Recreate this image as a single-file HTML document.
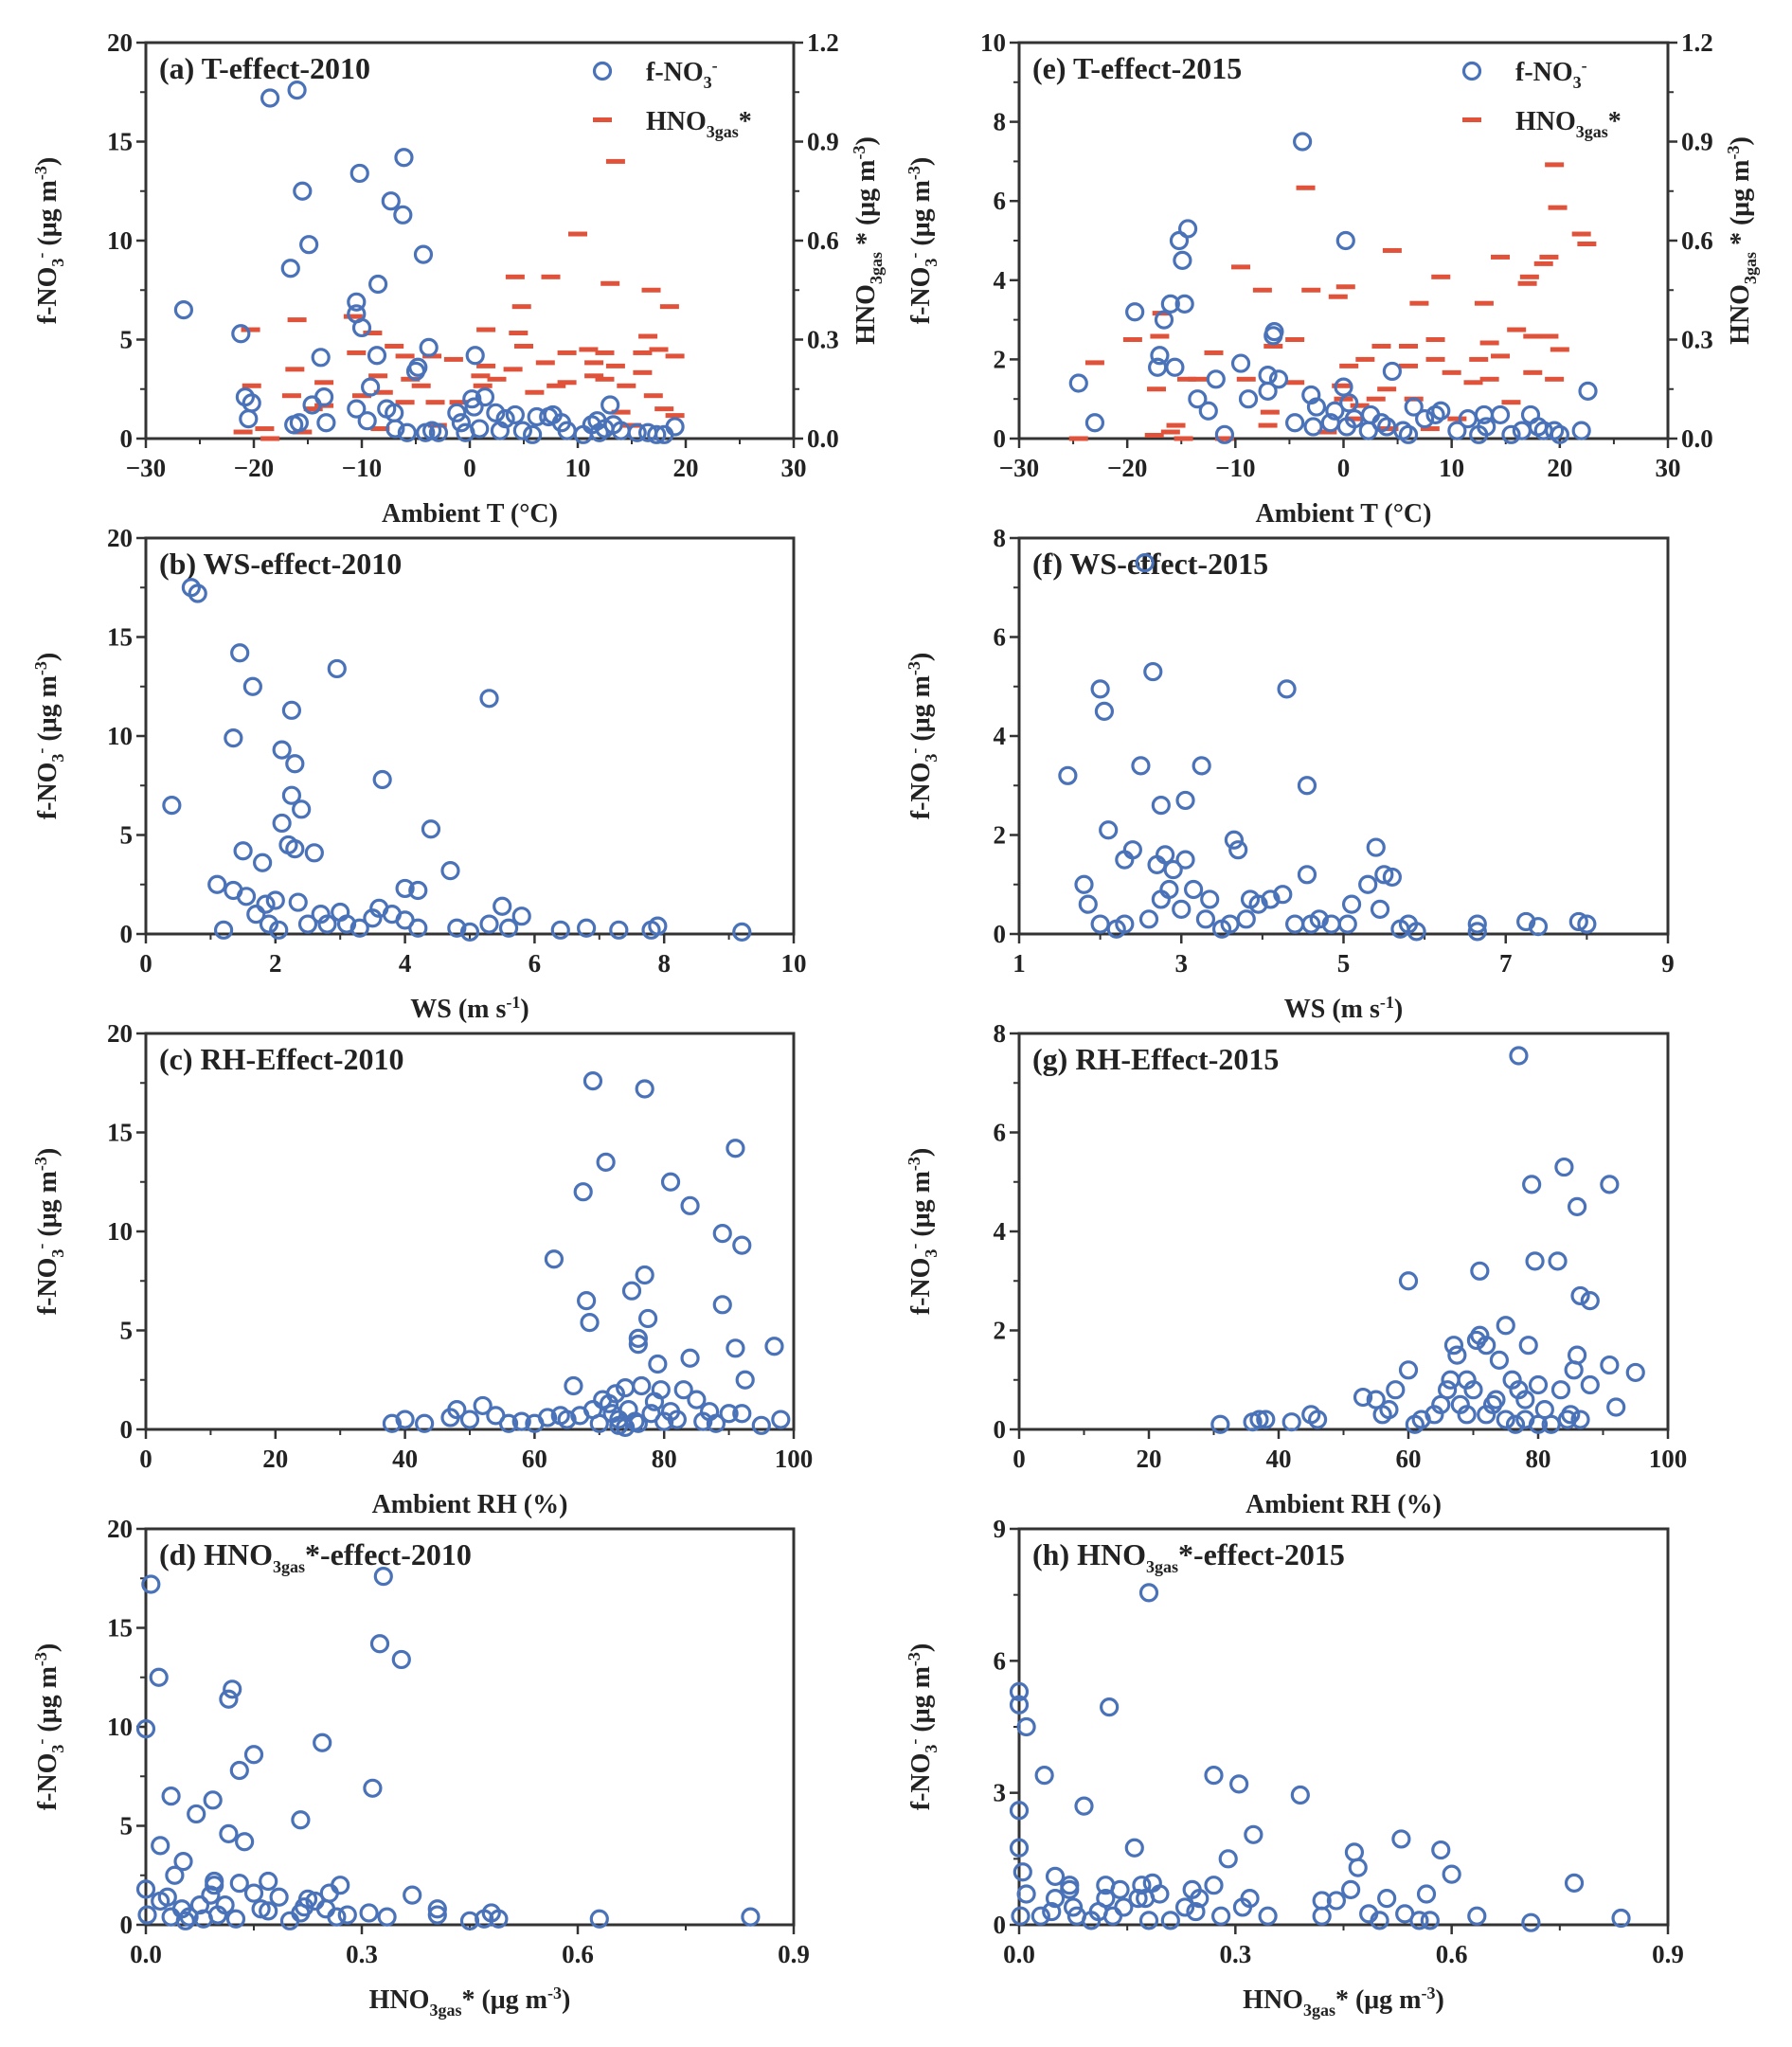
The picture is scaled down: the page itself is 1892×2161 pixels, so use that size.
<!DOCTYPE html>
<html><head><meta charset="utf-8"><style>
html,body{margin:0;padding:0;background:#fff;}
svg{display:block;font-family:"Liberation Serif",serif;font-weight:bold;}
</style></head><body>
<svg id="fig" width="1892" height="2161" viewBox="0 0 1892 2161" xmlns="http://www.w3.org/2000/svg"></svg>
<script>
// ---- Data ----
const aNO3T=[-26.5,-21.2,-20.8,-20.5,-20.2,-18.5,-16,-15.5,-16.6,-14.9,-16.3,-15.8,-14.6,-13.8,-13.5,-13.3,-10.2,-10.5,-10.5,-10.0,-10.5,-9.5,-9.2,-8.5,-8.6,-7.7,-7.3,-6.9,-7.0,-6.2,-6.1,-5.8,-5.0,-4.8,-4.3,-3.8,-3.5,-4.1,-2.9,-1.2,-0.8,-0.4,0.2,0.4,0.5,1.4,0.9,2.4,2.8,3.3,4.2,4.9,5.8,6.2,7.3,7.7,8.5,9.0,10.5,11.3,11.8,12.0,12.5,13.0,13.3,14,15.5,16.5,17.3,19,18];
const aNO3V=[6.5,5.3,2.1,1.0,1.8,17.2,17.6,12.5,8.6,9.8,0.7,0.8,1.7,4.1,2.1,0.8,13.4,6.9,6.3,5.6,1.5,0.9,2.6,7.8,4.2,1.5,12.0,0.5,1.3,11.3,14.2,0.3,3.4,3.6,9.3,4.6,0.4,0.3,0.3,1.3,0.8,0.3,2.0,1.6,4.2,2.1,0.5,1.3,0.4,1.0,1.2,0.4,0.2,1.1,1.1,1.2,0.8,0.4,0.2,0.7,0.9,0.3,0.5,1.7,0.7,0.4,0.3,0.3,0.2,0.6,0.2];
const aHNO3T=[-21,-20.3,-20.2,-19,-18.5,-16.5,-16.2,-16,-15.5,-14.5,-13.5,-13.5,-10.8,-10.5,-10,-9,-8.5,-8.3,-8,-7,-6,-6,-5.5,-4.5,-3.5,-3.2,-3,-1.5,-1,1,1.2,1.5,1.5,2.5,4,4.2,4.5,4.8,5,6,7,7.5,8,9,9,10,11,11.5,11.5,12.5,12.5,13,13.5,13.5,14,14.5,15,16,16,16.5,16.8,17,17.5,18,18.5,19,19];
const aHNO3V=[0.02,0.33,0.16,0.03,0,0.13,0.21,0.36,0.02,0.09,0.17,0.1,0.37,0.26,0.13,0.32,0.19,0.03,0.14,0.28,0.25,0.11,0.18,0.16,0.25,0.11,0.04,0.24,0.11,0.19,0.16,0.22,0.33,0.18,0.21,0.49,0.32,0.4,0.28,0.14,0.23,0.49,0.16,0.26,0.17,0.62,0.27,0.19,0.23,0.26,0.18,0.47,0.84,0.22,0.08,0.16,0.04,0.26,0.2,0.31,0.45,0.13,0.27,0.09,0.4,0.25,0.07];

const eNO3T=[-24.5,-23,-19.3,-17.2,-17,-16.6,-16,-15.6,-15.2,-14.9,-14.7,-14.4,-13.5,-12.5,-11.8,-11,-9.5,-8.8,-7,-7,-6.5,-6.4,-6,-3.8,-4.5,-3,-2.8,-2.5,-1.2,-0.8,0,0.2,0.5,0.3,1,2.5,2.3,3.5,4,4.5,5.5,6.5,6,7.5,8.5,9,10.5,11.5,12.5,13,13.2,14.5,15.5,16.5,17.3,18,18.5,19.5,20,22,22.6];
const eNO3V=[1.4,0.4,3.2,1.8,2.1,3.0,3.4,1.8,5.0,4.5,3.4,5.3,1.0,0.7,1.5,0.1,1.9,1.0,1.6,1.2,2.6,2.7,1.5,7.5,0.4,1.1,0.3,0.8,0.4,0.7,1.3,5.0,0.9,0.3,0.5,0.6,0.2,0.4,0.3,1.7,0.2,0.8,0.1,0.5,0.6,0.7,0.2,0.5,0.1,0.6,0.3,0.6,0.1,0.2,0.6,0.3,0.2,0.2,0.1,0.2,1.2];
const eHNO3T=[-24.5,-23,-19.5,-17.5,-17.3,-17,-16.8,-16,-15.5,-14.8,-14.5,-13.5,-12,-11,-9.5,-9,-7.5,-7,-6.8,-6.5,-4.5,-4.5,-3.5,-3,-1.5,-0.5,-0.2,0,0.2,0.5,1,1.5,2,3,3.5,4,4.5,4.2,6,6,6.5,7,8,8.5,8.5,9,10,10.5,12,12.5,13,13.5,13.5,14.5,14.5,15.5,16,17,17.2,17.5,17.5,18.5,19,19,19.5,19.5,19.8,20,22,22.5];
const eHNO3V=[0,0.23,0.3,0.01,0.15,0.31,0.38,0.02,0.04,0,0.18,0.18,0.26,0,0.52,0.18,0.45,0.04,0.08,0.28,0.3,0.17,0.76,0.45,0.02,0.43,0.16,0.12,0.46,0.22,0.06,0.1,0.24,0.12,0.28,0.15,0.57,0.03,0.28,0.22,0.12,0.41,0.03,0.3,0.24,0.49,0.2,0.06,0.17,0.24,0.41,0.29,0.18,0.55,0.25,0.11,0.33,0.47,0.49,0.31,0.2,0.53,0.55,0.31,0.18,0.83,0.7,0.27,0.62,0.59];

const bWS=[0.4,0.7,0.8,1.1,1.35,1.35,1.45,1.55,1.5,1.65,1.7,1.8,1.85,1.9,2.0,2.1,2.1,2.2,2.25,2.25,2.3,2.3,2.35,2.4,2.5,2.6,2.7,2.8,2.95,3.0,3.1,3.3,3.5,3.6,3.65,3.8,4.0,4.0,4.2,4.2,4.4,4.7,4.8,5.0,5.3,5.3,5.5,5.6,5.8,6.4,6.8,7.3,7.8,7.9,9.2,2.05,1.2];
const bNO3=[6.5,17.5,17.2,2.5,9.9,2.2,14.2,1.9,4.2,12.5,1.0,3.6,1.5,0.5,1.7,9.3,5.6,4.5,11.3,7.0,4.3,8.6,1.6,6.3,0.5,4.1,1.0,0.5,13.4,1.1,0.5,0.3,0.8,1.3,7.8,1.0,0.7,2.3,0.3,2.2,5.3,3.2,0.3,0.1,11.9,0.5,1.4,0.3,0.9,0.2,0.3,0.2,0.2,0.4,0.1,0.2,0.2];

const fWS=[1.6,1.8,1.85,2.0,2.0,2.05,2.1,2.2,2.3,2.3,2.4,2.5,2.55,2.6,2.65,2.7,2.75,2.75,2.8,2.85,2.9,3.0,3.05,3.05,3.15,3.25,3.3,3.35,3.5,3.6,3.65,3.7,3.8,3.85,3.95,4.1,4.25,4.3,4.4,4.55,4.55,4.6,4.7,4.85,5.05,5.1,5.3,5.4,5.5,5.6,5.45,5.7,5.8,5.9,6.65,6.65,7.25,7.4,7.9,8.0];
const fNO3=[3.2,1.0,0.6,0.2,4.95,4.5,2.1,0.1,1.5,0.2,1.7,3.4,7.5,0.3,5.3,1.4,0.7,2.6,1.6,0.9,1.3,0.5,2.7,1.5,0.9,3.4,0.3,0.7,0.1,0.2,1.9,1.7,0.3,0.7,0.6,0.7,0.8,4.95,0.2,3.0,1.2,0.2,0.3,0.2,0.2,0.6,1.0,1.75,1.2,1.15,0.5,0.1,0.2,0.05,0.2,0.05,0.25,0.15,0.25,0.2];

const cRH=[38,40,43,47,48,50,52,54,56,58,60,62,63,64,65,66,67,67.5,68,68.5,69,69,70,70.5,71,71.5,72,72.5,73,74,74.5,75,75.5,76,76,76.5,77,77,77.5,78,78.5,79,79.5,80,81,81,82,83,84,84,85,86,88,89,89,90,91,91,92,92,92.5,95,97,98,74,76,87,73];
const cNO3=[0.3,0.5,0.3,0.6,1.0,0.5,1.2,0.7,0.3,0.4,0.3,0.6,8.6,0.7,0.5,2.2,0.7,12.0,6.5,5.4,17.6,1.0,0.3,1.5,13.5,1.3,0.8,1.8,0.5,2.1,1.0,7.0,0.4,4.3,4.6,2.2,17.2,7.8,5.6,0.8,1.4,3.3,2.0,0.4,0.9,12.5,0.5,2.0,11.3,3.6,1.5,0.4,0.3,6.3,9.9,0.8,14.2,4.1,0.8,9.3,2.5,0.2,4.2,0.5,0.1,0.3,0.9,0.2];

const gRH=[31,36,37,38,42,45,46,53,55,56,57,58,60,60,61,62,64,65,66,66.5,67,67.5,68,69,69,70,70.5,71,71,72,72,73,73.5,74,75,75,76,77,77,78,78,78.5,79,79.5,80,81,82,83,83.5,84,84.5,85,85.5,86,86,86.5,86.5,88,88,91,91,92,95,80,76.5];
const gNO3=[0.1,0.15,0.2,0.2,0.15,0.3,0.2,0.65,0.6,0.3,0.4,0.8,3.0,1.2,0.1,0.2,0.3,0.5,0.8,1.0,1.7,1.5,0.5,0.3,1.0,0.8,1.8,1.9,3.2,0.3,1.7,0.5,0.6,1.4,2.1,0.2,1.0,7.55,0.8,0.2,0.6,1.7,4.95,3.4,0.9,0.4,0.1,3.4,0.8,5.3,0.2,0.3,1.2,1.5,4.5,0.2,2.7,2.6,0.9,4.95,1.3,0.45,1.15,0.1,0.1];

const dHNO3=[0.0,0.007,0.018,0.0,0.002,0.02,0.02,0.03,0.035,0.035,0.04,0.05,0.052,0.055,0.06,0.07,0.075,0.08,0.09,0.093,0.095,0.095,0.1,0.11,0.115,0.115,0.12,0.125,0.13,0.13,0.137,0.15,0.15,0.16,0.17,0.17,0.185,0.2,0.215,0.215,0.22,0.225,0.235,0.245,0.25,0.255,0.265,0.27,0.28,0.31,0.315,0.325,0.33,0.335,0.355,0.37,0.405,0.405,0.45,0.47,0.48,0.49,0.63,0.84];
const dNO3=[9.9,17.2,12.5,1.8,0.5,4.0,1.2,1.4,6.5,0.4,2.5,0.8,3.2,0.2,0.4,5.6,1.0,0.3,1.5,6.3,2.0,2.2,0.5,1.0,4.6,11.4,11.9,0.3,7.8,2.1,4.2,1.6,8.6,0.8,2.2,0.7,1.4,0.2,0.6,5.3,0.9,1.3,1.2,9.2,0.8,1.6,0.4,2.0,0.5,0.6,6.9,14.2,17.6,0.4,13.4,1.5,0.8,0.5,0.2,0.3,0.6,0.3,0.3,0.4];

const hHNO3=[0,0,0.01,0,0,0.005,0.01,0.002,0.03,0.035,0.045,0.05,0.05,0.07,0.07,0.075,0.08,0.09,0.1,0.11,0.12,0.12,0.125,0.13,0.14,0.145,0.16,0.165,0.17,0.175,0.18,0.18,0.185,0.195,0.21,0.23,0.24,0.245,0.25,0.27,0.27,0.28,0.29,0.305,0.31,0.32,0.325,0.345,0.39,0.42,0.42,0.44,0.46,0.465,0.47,0.485,0.5,0.51,0.53,0.535,0.555,0.565,0.57,0.585,0.6,0.635,0.71,0.77,0.835];
const hNO3=[5.3,5.0,4.5,2.6,1.75,1.2,0.7,0.2,0.2,3.4,0.3,1.1,0.6,0.9,0.8,0.4,0.2,2.7,0.1,0.3,0.9,0.6,4.95,0.2,0.8,0.4,1.75,0.6,0.9,0.6,0.1,7.55,0.95,0.7,0.1,0.4,0.8,0.3,0.6,3.4,0.9,0.2,1.5,3.2,0.4,0.6,2.05,0.2,2.95,0.2,0.55,0.55,0.8,1.65,1.3,0.25,0.1,0.6,1.95,0.25,0.1,0.7,0.1,1.7,1.15,0.2,0.05,0.95,0.15];

const tTicks=[-30,-20,-10,0,10,20,30];
const wsTicks2010=[0,2,4,6,8,10];
const wsTicks2015=[1,3,5,7,9];
const rhTicks=[0,20,40,60,80,100];
const hTicks=[0.0,0.3,0.6,0.9];
const y20=[0,5,10,15,20];
const y10=[0,2,4,6,8,10];
const y8=[0,2,4,6,8];
const y9=[0,3,6,9];
const rTicks=[0.0,0.3,0.6,0.9,1.2];

// ---- Drawing ----
const NS="http://www.w3.org/2000/svg";
const svg=document.getElementById('fig');
const BLUE="#4a72b8", RED="#e0523a";
function mk(tag,attrs,parent){const e=document.createElementNS(NS,tag);for(const k in attrs)e.setAttribute(k,attrs[k]);(parent||svg).appendChild(e);return e;}
function fmt(v,dec){return v<0?'\u2212'+Math.abs(v).toFixed(dec):v.toFixed(dec);}

function panel(o){
  const g=mk('g',{});
  
  
  const L=o.x0,R=o.x1,T=o.y0,B=o.y0+418;
  const sx=v=>L+(v-o.xmin)/(o.xmax-o.xmin)*(R-L);
  const sy=v=>B-(v-o.ymin)/(o.ymax-o.ymin)*(B-T);
  const sr=v=>B-v/1.2*(B-T);
  const frame=mk('rect',{x:L,y:T,width:R-L,height:B-T,fill:'none',stroke:'#333',"stroke-width":3},g);
  
  
  // x ticks
  const xt=o.xticks;
  for(let i=0;i<xt.length;i++){
    const x=sx(xt[i]);
    mk('line',{x1:x,y1:B,x2:x,y2:B+10,stroke:'#333',"stroke-width":2.5},g);
    if(i<xt.length-1){const xm=sx((xt[i]+xt[i+1])/2);mk('line',{x1:xm,y1:B,x2:xm,y2:B+6,stroke:'#333',"stroke-width":2},g);}
    const t=mk('text',{x:x,y:B+40,"text-anchor":"middle","font-size":27,fill:'#222'},g);
    t.textContent=fmt(xt[i],o.xdec);
    
    
  }
  const yt=o.yticks;
  for(let i=0;i<yt.length;i++){
    const y=sy(yt[i]);
    mk('line',{x1:L,y1:y,x2:L-10,y2:y,stroke:'#333',"stroke-width":2.5},g);
    if(i<yt.length-1){const ym=sy((yt[i]+yt[i+1])/2);mk('line',{x1:L,y1:ym,x2:L-6,y2:ym,stroke:'#333',"stroke-width":2},g);}
    const t=mk('text',{x:L-14,y:y+9,"text-anchor":"end","font-size":27,fill:'#222'},g);
    t.textContent=String(yt[i]);
    
    
  }
  if(o.right){
    for(let i=0;i<rTicks.length;i++){
      const y=sr(rTicks[i]);
      mk('line',{x1:R,y1:y,x2:R+10,y2:y,stroke:'#333',"stroke-width":2.5},g);
      if(i<rTicks.length-1){const ym=sr((rTicks[i]+rTicks[i+1])/2);mk('line',{x1:R,y1:ym,x2:R+6,y2:ym,stroke:'#333',"stroke-width":2},g);}
      const t=mk('text',{x:R+14,y:y+9,"font-size":27,fill:'#222'},g);
      t.textContent=rTicks[i].toFixed(1);
      
      
    }
    const rt=mk('text',{transform:`translate(${R+85},${(T+B)/2}) rotate(-90)`,"text-anchor":"middle","font-size":28,fill:'#222'},g);
    rt.innerHTML='HNO<tspan font-size="18" dy="8">3gas</tspan><tspan dy="-8"> * (μg m</tspan><tspan font-size="18" dy="-10">-3</tspan><tspan dy="10">)</tspan>';
    
    
  }
  // y title
  const yt2=mk('text',{transform:`translate(${L-95},${(T+B)/2}) rotate(-90)`,"text-anchor":"middle","font-size":28,fill:'#222'},g);
  yt2.innerHTML='f-NO<tspan font-size="18" dy="8">3</tspan><tspan font-size="18" dy="-18">-</tspan><tspan dy="10"> (μg m</tspan><tspan font-size="18" dy="-10">-3</tspan><tspan dy="10">)</tspan>';
  
  
  // x title
  const xtt=mk('text',{x:(L+R)/2,y:B+88,"text-anchor":"middle","font-size":28,fill:'#222'},g);
  xtt.innerHTML=o.xtitle;
  
  
  // panel title
  const tt=mk('text',{x:L+14,y:T+38,"font-size":32,fill:'#222'},g);
  tt.innerHTML=o.title;
  
  
  // dashes
  if(o.rx){
    for(let i=0;i<o.rx.length;i++){
      const d=mk('rect',{x:sx(o.rx[i])-10,y:sr(o.ry[i])-2.5,width:20,height:5,fill:RED},g);
      
      
    }
  }
  for(let i=0;i<o.px.length;i++){
    const c=mk('circle',{cx:sx(o.px[i]),cy:sy(o.py[i]),r:8.5,fill:'none',stroke:BLUE,"stroke-width":3.2},g);
    
    
  }
  if(o.legend){
    const lx=L+o.legend, ly=T;
    const lc=mk('circle',{cx:lx,cy:ly+30,r:8.5,fill:'none',stroke:BLUE,"stroke-width":3.2},g);
    
    
    const l1=mk('text',{x:lx+46,y:ly+40,"font-size":28,fill:'#222'},g);
    l1.innerHTML='f-NO<tspan font-size="18" dy="8">3</tspan><tspan font-size="18" dy="-18">-</tspan>';
    
    
    const ld=mk('rect',{x:lx-10,y:ly+79,width:20,height:5,fill:RED},g);
    
    
    const l2=mk('text',{x:lx+46,y:ly+92,"font-size":28,fill:'#222'},g);
    l2.innerHTML='HNO<tspan font-size="18" dy="8">3gas</tspan><tspan dy="-8">*</tspan>';
    
    
  }
}
const LX0=154,LX1=838,RX0=1076,RX1=1761;
const ROW=[45,568,1091,1614];
const sub3='HNO<tspan font-size="18" dy="8">3gas</tspan><tspan dy="-8">';
const hxTitle=sub3+'* (μg m</tspan><tspan font-size="18" dy="-10">-3</tspan><tspan dy="10">)</tspan>';
panel({name:'panel-a',x0:LX0,x1:LX1,y0:ROW[0],xmin:-30,xmax:30,ymin:0,ymax:20,xticks:tTicks,xdec:0,yticks:y20,right:true,px:aNO3T,py:aNO3V,rx:aHNO3T,ry:aHNO3V,legend:482,title:'(a) T-effect-2010',xtitle:'Ambient T (°C)'});
panel({name:'panel-e',x0:RX0,x1:RX1,y0:ROW[0],xmin:-30,xmax:30,ymin:0,ymax:10,xticks:tTicks,xdec:0,yticks:y10,right:true,px:eNO3T,py:eNO3V,rx:eHNO3T,ry:eHNO3V,legend:478,title:'(e) T-effect-2015',xtitle:'Ambient T (°C)'});
panel({name:'panel-b',x0:LX0,x1:LX1,y0:ROW[1],xmin:0,xmax:10,ymin:0,ymax:20,xticks:wsTicks2010,xdec:0,yticks:y20,px:bWS,py:bNO3,title:'(b) WS-effect-2010',xtitle:'WS (m s<tspan font-size="18" dy="-10">-1</tspan><tspan dy="10">)</tspan>'});
panel({name:'panel-f',x0:RX0,x1:RX1,y0:ROW[1],xmin:1,xmax:9,ymin:0,ymax:8,xticks:wsTicks2015,xdec:0,yticks:y8,px:fWS,py:fNO3,title:'(f) WS-effect-2015',xtitle:'WS (m s<tspan font-size="18" dy="-10">-1</tspan><tspan dy="10">)</tspan>'});
panel({name:'panel-c',x0:LX0,x1:LX1,y0:ROW[2],xmin:0,xmax:100,ymin:0,ymax:20,xticks:rhTicks,xdec:0,yticks:y20,px:cRH,py:cNO3,title:'(c) RH-Effect-2010',xtitle:'Ambient RH (%)'});
panel({name:'panel-g',x0:RX0,x1:RX1,y0:ROW[2],xmin:0,xmax:100,ymin:0,ymax:8,xticks:rhTicks,xdec:0,yticks:y8,px:gRH,py:gNO3,title:'(g) RH-Effect-2015',xtitle:'Ambient RH (%)'});
panel({name:'panel-d',x0:LX0,x1:LX1,y0:ROW[3],xmin:0,xmax:0.9,ymin:0,ymax:20,xticks:hTicks,xdec:1,yticks:y20,px:dHNO3,py:dNO3,title:'(d) '+sub3+'*-effect-2010</tspan>',xtitle:hxTitle});
panel({name:'panel-h',x0:RX0,x1:RX1,y0:ROW[3],xmin:0,xmax:0.9,ymin:0,ymax:9,xticks:hTicks,xdec:1,yticks:y9,px:hHNO3,py:hNO3,title:'(h) '+sub3+'*-effect-2015</tspan>',xtitle:hxTitle});
</script>
</body></html>
